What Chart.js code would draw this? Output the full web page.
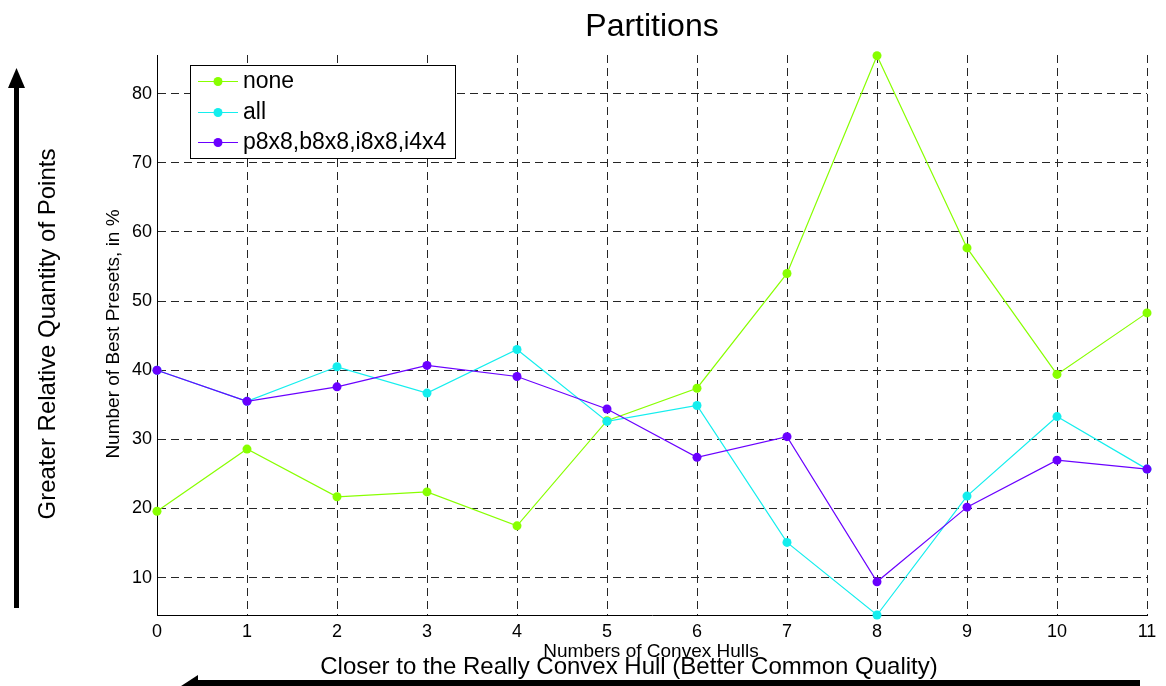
<!DOCTYPE html>
<html>
<head>
<meta charset="utf-8">
<title>Partitions</title>
<script src="https://cdn.jsdelivr.net/npm/chart.js@4/dist/chart.umd.min.js"></script>
<style>
  html, body { margin: 0; padding: 0; background: #ffffff; }
  #wrap { width: 1166px; height: 686px; position: relative; }
  canvas { display: block; }
</style>
</head>
<body>
<div id="wrap"><canvas id="chart" width="1166" height="686"></canvas></div>
<script>
// Number of convex hulls (x axis)
const hulls = [0, 1, 2, 3, 4, 5, 6, 7, 8, 9, 10, 11];

// Share of best presets, in %, per partition setting
const noneValues = [19.6, 28.6, 21.7, 22.4, 17.5, 32.7, 37.4, 54.0, 85.5, 57.7, 39.4, 48.3];
const allValues = [40.0, 35.5, 40.5, 36.7, 43.0, 32.6, 34.9, 15.1, 4.6, 21.8, 33.3, 25.7];
const subsetValues = [40.0, 35.5, 37.6, 40.7, 39.1, 34.4, 27.4, 30.4, 9.4, 20.2, 27.0, 25.7];

const seriesNames = ['none', 'all', 'p8x8,b8x8,i8x8,i4x4'];
const seriesColors = ['#88ff00', '#14eeee', '#6a00ff'];

const yTicks = [10, 20, 30, 40, 50, 60, 70, 80];
const yMin = 4.6;
const yMax = 85.6;

const FONT = '"Liberation Sans", Arial, Helvetica, sans-serif';

function toPoints(values) {
  return hulls.map((h, i) => ({ x: h, y: values[i] }));
}

function makeDataset(label, values, color, order) {
  return {
    label: label,
    data: toPoints(values),
    borderColor: color,
    backgroundColor: color,
    borderWidth: 1.2,
    pointRadius: 4.5,
    pointHoverRadius: 4.5,
    pointBorderWidth: 0,
    pointBackgroundColor: color,
    tension: 0,
    fill: false,
    clip: false,
    order: order
  };
}

// Titles, side annotations with arrows, and the boxed legend
const decorations = {
  id: 'decorations',
  afterDraw(chart) {
    const ctx = chart.ctx;
    ctx.save();
    ctx.fillStyle = '#000';
    ctx.textAlign = 'center';
    ctx.textBaseline = 'middle';

    // Title
    ctx.font = '32px ' + FONT;
    ctx.fillText('Partitions', 652, 27);

    // x axis title
    ctx.font = '19px ' + FONT;
    ctx.fillText('Numbers of Convex Hulls', 651, 652);

    // y axis title
    ctx.save();
    ctx.translate(114, 334);
    ctx.rotate(-Math.PI / 2);
    ctx.font = '19px ' + FONT;
    ctx.fillText('Number of Best Presets, in %', 0, 0);
    ctx.restore();

    // Left annotation
    ctx.save();
    ctx.translate(48, 334);
    ctx.rotate(-Math.PI / 2);
    ctx.font = '24px ' + FONT;
    ctx.fillText('Greater Relative Quantity of Points', 0, 0);
    ctx.restore();

    // Bottom annotation
    ctx.font = '24px ' + FONT;
    ctx.fillText('Closer to the Really Convex Hull (Better Common Quality)', 629, 667);

    // Upward arrow
    ctx.fillStyle = '#000';
    ctx.fillRect(14, 86, 5, 522);
    ctx.beginPath();
    ctx.moveTo(16.5, 68);
    ctx.lineTo(25, 88);
    ctx.lineTo(8, 88);
    ctx.closePath();
    ctx.fill();

    // Leftward arrow along the bottom edge
    ctx.fillRect(192, 680, 948, 10);
    ctx.beginPath();
    ctx.moveTo(178, 688);
    ctx.lineTo(198, 675);
    ctx.lineTo(198, 700);
    ctx.closePath();
    ctx.fill();

    // Legend box
    const bx = 190, by = 65, bw = 265, bh = 93;
    ctx.fillStyle = '#ffffff';
    ctx.fillRect(bx, by, bw, bh);
    ctx.strokeStyle = '#000';
    ctx.lineWidth = 1;
    ctx.strokeRect(bx + 0.5, by + 0.5, bw, bh);
    const rows = [81, 112, 142];
    ctx.font = '23px ' + FONT;
    ctx.textAlign = 'left';
    chart.data.datasets.forEach((ds, i) => {
      const y = rows[i];
      ctx.strokeStyle = ds.borderColor;
      ctx.lineWidth = 1.2;
      ctx.beginPath();
      ctx.moveTo(198, y + 0.5);
      ctx.lineTo(238, y + 0.5);
      ctx.stroke();
      ctx.fillStyle = ds.borderColor;
      ctx.beginPath();
      ctx.arc(218, y + 0.5, 4.5, 0, Math.PI * 2);
      ctx.fill();
      ctx.fillStyle = '#000';
      ctx.fillText(ds.label, 243, y + 1);
    });
    ctx.restore();
  }
};

const gridStyle = {
  color: '#262626',
  lineWidth: 1,
  drawTicks: false
};

new Chart(document.getElementById('chart'), {
  type: 'line',
  data: {
    datasets: [
      makeDataset(seriesNames[0], noneValues, seriesColors[0], 3),
      makeDataset(seriesNames[1], allValues, seriesColors[1], 2),
      makeDataset(seriesNames[2], subsetValues, seriesColors[2], 1)
    ]
  },
  options: {
    responsive: false,
    devicePixelRatio: 1,
    animation: false,
    events: [],
    layout: { padding: { top: 55, left: 0, right: 19, bottom: 0 } },
    plugins: {
      legend: { display: false },
      title: { display: false },
      tooltip: { enabled: false }
    },
    scales: {
      x: {
        type: 'linear',
        min: 0,
        max: 11,
        grid: gridStyle,
        border: { display: true, color: '#000', width: 1, dash: [8, 5] },
        ticks: {
          stepSize: 1,
          padding: 6,
          color: '#000',
          font: { family: FONT, size: 18 },
          maxRotation: 0,
          callback: (v) => String(v)
        },
        afterFit(scale) { scale.height = 71; }
      },
      y: {
        type: 'linear',
        min: yMin,
        max: yMax,
        grid: gridStyle,
        border: { display: true, color: '#000', width: 1, dash: [8, 5] },
        afterBuildTicks(scale) {
          scale.ticks = yTicks.map(v => ({ value: v }));
        },
        ticks: {
          padding: 5,
          color: '#000',
          font: { family: FONT, size: 18 },
          callback: (v) => String(v)
        },
        afterFit(scale) { scale.width = 157; }
      }
    }
  },
  plugins: [decorations]
});
</script>
</body>
</html>
